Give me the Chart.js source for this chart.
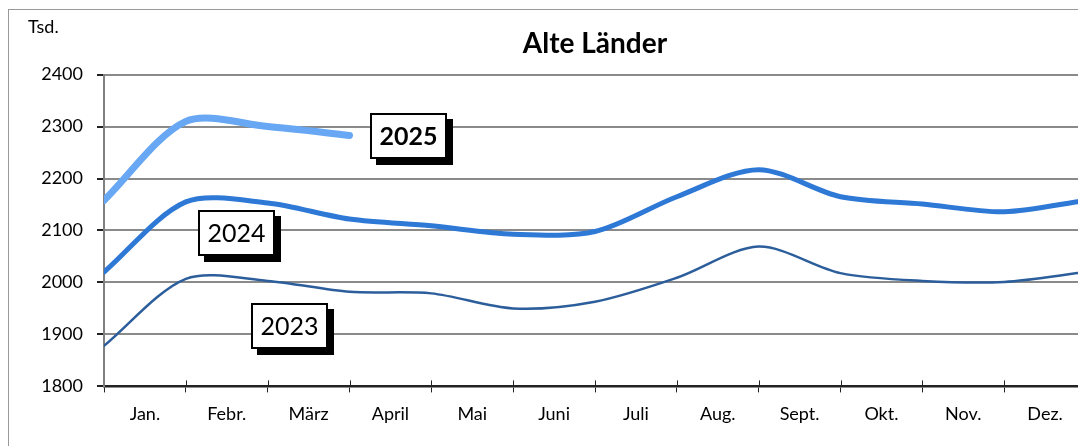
<!DOCTYPE html>
<html>
<head>
<meta charset="utf-8">
<script src="https://cdn.jsdelivr.net/npm/chart.js@4"></script>
<style>
  html, body { margin: 0; padding: 0; background: #fff; overflow: hidden; }
  #wrap { position: relative; width: 1078px; height: 446px; overflow: hidden; }
  #frame { position: absolute; left: 8px; top: 9px; width: 1200px; height: 500px; border: 1px solid #999; }
  canvas { position: absolute; left: 0; top: 0; }
</style>
</head>
<body>
<div id="wrap">
  <div id="frame"></div>
  <canvas id="chart" width="1176" height="446"></canvas>
</div>
<script>
// points sit on the tick marks: Dec of previous year, then Jan..Dec
const pointLabels = ["Dez. Vj.", "Jan.", "Febr.", "März", "April", "Mai", "Juni", "Juli", "Aug.", "Sept.", "Okt.", "Nov.", "Dez."]
const months = ["Jan.", "Febr.", "März", "April", "Mai", "Juni", "Juli", "Aug.", "Sept.", "Okt.", "Nov.", "Dez."]

const values2023 = [1878, 2007, 2003, 1982, 1979, 1950, 1963, 2009, 2069, 2018, 2003, 2001, 2020]
const values2024 = [2020, 2155, 2153, 2122, 2109, 2093, 2098, 2165, 2217, 2165, 2151, 2136, 2158]
const values2025 = [2158, 2310, 2300, 2283]

const yTicks = [1800, 1900, 2000, 2100, 2200, 2300, 2400]

const FONT = "Lato, 'Open Sans', sans-serif"

// year boxes with a drop shadow, placed in data units
const yearTags = [
    { text: "2025", x: 3.72, y: 2282, bold: true },
    { text: "2024", x: 1.62, y: 2095, bold: false },
    { text: "2023", x: 2.27, y: 1917, bold: false },
]

const extras = {
    id: "extras",
    afterDatasetsDraw(chart) {
        const ctx = chart.ctx
        const xs = chart.scales.x
        const ys = chart.scales.y
        const area = chart.chartArea

        // tick marks crossing the x axis into the plot
        ctx.save()
        ctx.strokeStyle = "#222"
        ctx.lineWidth = 1
        for (let i = 1; i < pointLabels.length; i++) {
            const px = Math.round(xs.getPixelForValue(i)) + 0.5
            ctx.beginPath()
            ctx.moveTo(px, area.bottom - 6)
            ctx.lineTo(px, area.bottom)
            ctx.stroke()
        }

        // unit label
        ctx.fillStyle = "#000"
        ctx.font = "18px " + FONT
        ctx.textAlign = "left"
        ctx.textBaseline = "middle"
        ctx.fillText("Tsd.", 28, 27)

        yearTags.forEach(tag => {
            const cx = xs.getPixelForValue(tag.x)
            const cy = ys.getPixelForValue(tag.y)
            const w = 77, h = 46
            const left = Math.round(cx - w / 2), top = Math.round(cy - h / 2)
            ctx.fillStyle = "#000"
            ctx.fillRect(left + 6, top + 6, w, h)
            ctx.fillStyle = "#fff"
            ctx.fillRect(left, top, w, h)
            ctx.strokeStyle = "#000"
            ctx.lineWidth = 2
            ctx.strokeRect(left + 1, top + 1, w - 2, h - 2)
            ctx.fillStyle = "#000"
            ctx.font = (tag.bold ? "bold " : "") + "25px " + FONT
            ctx.textAlign = "center"
            ctx.textBaseline = "middle"
            ctx.fillText(tag.text, left + w / 2, top + h / 2 + 1)
        })
        ctx.restore()
    }
}

const ctx = document.getElementById("chart").getContext("2d")

new Chart(ctx, {
    type: "line",
    data: {
        labels: pointLabels,
        datasets: [
            { label: "2023", data: values2023, borderColor: "#2c5e9b", borderWidth: 2.5 },
            { label: "2024", data: values2024, borderColor: "#2e78d6", borderWidth: 5 },
            { label: "2025", data: values2025, borderColor: "#67a7f3", borderWidth: 7 },
        ].map(d => ({ ...d, pointRadius: 0, tension: 0.3, fill: false, borderCapStyle: "round", clip: 0 })),
    },
    options: {
        responsive: false,
        animation: false,
        devicePixelRatio: 1,
        layout: { padding: { left: 0, right: 90, top: 0, bottom: 10 } },
        plugins: {
            legend: { display: false },
            tooltip: { enabled: false },
            title: {
                display: true,
                fullSize: false,
                text: "Alte Länder",
                color: "#000",
                font: { family: FONT, size: 28, weight: "bold", lineHeight: 1.2 },
                padding: { top: 27, bottom: 14 },
            },
        },
        scales: {
            x: {
                type: "category",
                position: "bottom",
                offset: false,
                ticks: { display: false },
                grid: { drawOnChartArea: false, tickLength: 6, tickColor: "#222", lineWidth: 1 },
                border: { color: "#222", width: 1.5 },
            },
            m: {
                type: "category",
                position: "bottom",
                labels: months,
                offset: true,
                grid: { display: false, drawTicks: false },
                border: { display: false },
                ticks: { color: "#000", padding: 11, maxRotation: 0, autoSkip: false, font: { family: FONT, size: 18 } },
            },
            y: {
                min: 1800,
                max: 2400,
                afterFit: s => { s.width = 104 },
                afterBuildTicks: s => { s.ticks = yTicks.map(v => ({ value: v })) },
                ticks: { color: "#000", padding: 14, font: { family: FONT, size: 18 }, callback: v => String(v) },
                grid: {
                    color: c => c.tick && c.tick.value === 1800 ? "#222" : "#8a8a8a",
                    lineWidth: 2,
                    tickLength: 7,
                    tickColor: "#222",
                },
                border: { color: "#808080", width: 2 },
            },
        },
    },
    plugins: [extras],
})
</script>
</body>
</html>
